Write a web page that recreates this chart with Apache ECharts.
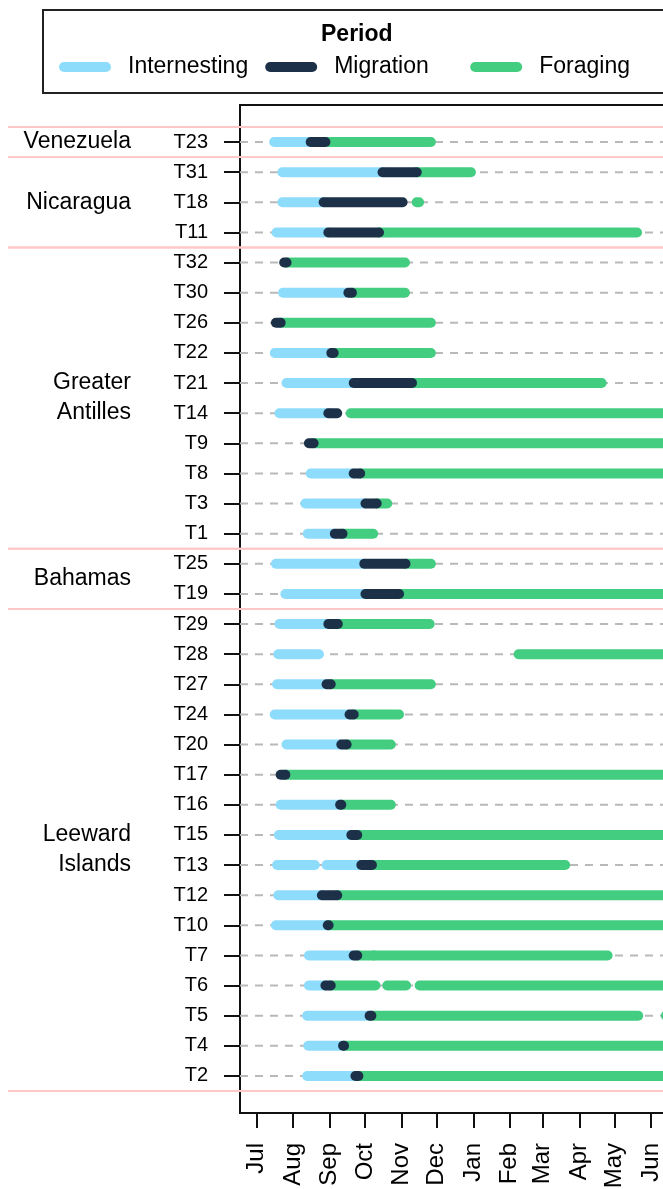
<!DOCTYPE html>
<html>
<head>
<meta charset="utf-8">
<script src="https://cdn.jsdelivr.net/npm/echarts@6/dist/echarts.min.js"></script>
<style>
  html, body { margin: 0; padding: 0; background: #fff; }
  #chart { width: 663px; height: 1189px; }
</style>
</head>
<body>
<div id="chart"></div>
<script>
// Tags, top to bottom
const tags = ['T23', 'T31', 'T18', 'T11', 'T32', 'T30', 'T26', 'T22', 'T21', 'T14', 'T9', 'T8',
  'T3', 'T1', 'T25', 'T19', 'T29', 'T28', 'T27', 'T24', 'T20', 'T17', 'T16', 'T15', 'T13',
  'T12', 'T10', 'T7', 'T6', 'T5', 'T4', 'T2'];

// Foraging regions and how many consecutive tags belong to each
const groupNames = ['Venezuela', 'Nicaragua', 'Greater\nAntilles', 'Bahamas', 'Leeward\nIslands'];
const groupSizes = [1, 3, 10, 2, 16];

// Month ticks (days counted from 1 July)
const monthNames = ['Jul', 'Aug', 'Sep', 'Oct', 'Nov', 'Dec', 'Jan', 'Feb', 'Mar', 'Apr', 'May', 'Jun'];
const monthDays = [31, 31, 30, 31, 30, 31, 31, 28, 31, 30, 31, 30];

// Period segments: [tag, start day, end day], days since 1 July
const internesting = [
  ['T23', 15, 46], ['T31', 22, 107], ['T18', 22, 57], ['T11', 17, 61],
  ['T30', 22.5, 78], ['T22', 15.5, 63.5], ['T21', 25.5, 82.5], ['T14', 19.5, 61],
  ['T8', 46, 82.5], ['T3', 41.5, 92.5], ['T1', 43.5, 66.5], ['T25', 16.5, 91.5],
  ['T19', 24.5, 92.5], ['T29', 19.5, 61], ['T28', 18.5, 53], ['T27', 17.5, 59.5],
  ['T24', 15.5, 79], ['T20', 25.5, 72], ['T16', 20.5, 71], ['T15', 19, 80.5],
  ['T13', 17.5, 49.5], ['T13', 59.5, 89], ['T12', 18.5, 55.5], ['T10', 16.5, 60.5],
  ['T7', 44.5, 82.5], ['T6', 44.5, 58.5], ['T5', 43, 96], ['T4', 44, 73.5], ['T2', 43, 84]
];
const migration = [
  ['T23', 46, 58.5], ['T31', 107, 136], ['T18', 57, 124], ['T11', 61, 104],
  ['T32', 23.5, 25.5], ['T30', 78, 81], ['T26', 16.5, 20.5], ['T22', 63.5, 65.5],
  ['T21', 82.5, 132], ['T14', 61, 68.5], ['T9', 44.5, 48.5], ['T8', 82.5, 88],
  ['T3', 92.5, 102], ['T1', 66.5, 73], ['T25', 91.5, 126.5], ['T19', 92.5, 121],
  ['T29', 61, 69], ['T27', 59.5, 63], ['T24', 79, 82.5], ['T20', 72, 76.5],
  ['T17', 20.5, 24.5], ['T16', 71, 72], ['T15', 80.5, 85.5], ['T13', 89, 98],
  ['T12', 55.5, 68.5], ['T10', 60.5, 61.2], ['T7', 82.5, 85.5], ['T6', 58.5, 63],
  ['T5', 96, 97.5], ['T4', 73.5, 74.3], ['T2', 84, 86.5]
];
const foraging = [
  ['T23', 58.5, 148], ['T31', 136, 182], ['T18', 136, 138], ['T11', 104, 323],
  ['T32', 25.5, 126], ['T30', 81, 126], ['T26', 20.5, 148], ['T22', 65.5, 90],
  ['T22', 90, 148], ['T21', 132, 293], ['T14', 80, 362], ['T9', 48.5, 362],
  ['T8', 88, 362], ['T3', 102, 111], ['T1', 73, 99], ['T25', 126.5, 148],
  ['T19', 121, 141], ['T19', 141, 362], ['T29', 69, 147], ['T28', 222.5, 362],
  ['T27', 63, 148], ['T24', 82.5, 121], ['T20', 76.5, 114], ['T17', 24.5, 362],
  ['T16', 72, 114], ['T15', 85.5, 362], ['T13', 98, 262], ['T12', 68.5, 362],
  ['T10', 61.2, 362], ['T7', 85.5, 99.5], ['T7', 99.5, 298], ['T6', 63, 101],
  ['T6', 111, 127], ['T6', 138.5, 362], ['T5', 97.5, 324], ['T5', 347.5, 362],
  ['T4', 74.3, 362], ['T2', 86.5, 362]
];

const COLORS = { Internesting: '#8edcfc', Migration: '#1c3148', Foraging: '#43cd80' };
const FONT = '"Liberation Sans", Arial, Helvetica, sans-serif';
const X_MIN = -14, X_MAX = 379;
const Y_MIN = -1.23, Y_MAX = tags.length - 1 + 1.23;

const monthStarts = monthDays.reduce((acc, d, i) => {
  acc.push(i === 0 ? 0 : acc[i - 1] + monthDays[i - 1]);
  return acc;
}, []);
const rowIndex = tags.map((t, i) => i);

function segmentSeries(name, rows, z) {
  return {
    type: 'custom',
    name: name,
    z: z,
    silent: true,
    itemStyle: { color: COLORS[name] },
    encode: { x: [0, 1], y: 2 },
    data: rows.map(r => [r[1], r[2], tags.indexOf(r[0])]),
    renderItem: function (params, api) {
      const row = api.value(2);
      const a = api.coord([api.value(0), row]);
      const b = api.coord([api.value(1), row]);
      return {
        type: 'line',
        shape: { x1: a[0], y1: a[1], x2: b[0], y2: b[1] },
        style: { stroke: COLORS[name], lineWidth: 10, lineCap: 'round' }
      };
    }
  };
}

// Row ranges of each region
const groupRows = [];
groupSizes.reduce((start, n, i) => {
  groupRows.push([X_MIN, start, start + n - 1, i]);
  return start + n;
}, 0);

const legendIcon = 'path://M5 0H47A5 5 0 0 1 47 10H5A5 5 0 0 1 5 0Z';

const option = {
  animation: false,
  backgroundColor: '#fff',
  textStyle: { fontFamily: FONT },
  title: {
    text: 'Period',
    left: 316,
    top: 17,
    textStyle: { fontFamily: FONT, fontSize: 23, fontWeight: 'bold', color: '#000', lineHeight: 26 }
  },
  legend: {
    left: 43,
    top: 10,
    width: 620,
    orient: 'horizontal',
    padding: [44, 12, 13, 16],
    borderColor: '#222',
    borderWidth: 2,
    itemWidth: 52,
    itemHeight: 10,
    itemGap: 17,
    selectedMode: false,
    textStyle: {
      fontFamily: FONT, fontSize: 23, color: '#000', lineHeight: 26,
      width: 119, padding: [0, 0, 0, 12]
    },
    data: [
      { name: 'Internesting', icon: legendIcon },
      { name: 'Migration', icon: legendIcon },
      { name: 'Foraging', icon: legendIcon }
    ]
  },
  grid: {
    left: 240,
    top: 105,
    right: -40,
    bottom: 76,
    outerBoundsMode: 'none',
    containLabel: false,
    show: true,
    borderColor: '#111',
    borderWidth: 2,
    backgroundColor: 'transparent'
  },
  xAxis: {
    type: 'value',
    min: X_MIN,
    max: X_MAX,
    position: 'bottom',
    splitLine: { show: false },
    axisLine: { show: true, onZero: false, lineStyle: { color: '#111', width: 2 } },
    axisTick: {
      show: true, length: 15, customValues: monthStarts,
      lineStyle: { color: '#111', width: 2 }
    },
    axisLabel: {
      show: true, rotate: 90, margin: 30, fontSize: 24, color: '#000', fontFamily: FONT,
      customValues: monthStarts,
      formatter: v => monthNames[monthStarts.indexOf(Math.round(v))] || ''
    }
  },
  yAxis: {
    type: 'value',
    inverse: true,
    min: Y_MIN,
    max: Y_MAX,
    splitLine: { show: false },
    axisLine: { show: true, onZero: false, lineStyle: { color: '#111', width: 2 } },
    axisTick: {
      show: true, length: 16, customValues: rowIndex,
      lineStyle: { color: '#111', width: 2 }
    },
    axisLabel: {
      show: true, margin: 32, fontSize: 20, color: '#000', fontFamily: FONT,
      customValues: rowIndex,
      formatter: v => tags[Math.round(v)] || ''
    }
  },
  series: [
    {
      // dashed guide line behind each tag's timeline
      type: 'custom',
      name: 'guides',
      z: 1,
      silent: true,
      encode: { x: 0, y: 1 },
      data: rowIndex.map(i => [X_MIN, i]),
      renderItem: function (params, api) {
        const cs = params.coordSys;
        const y = api.coord([X_MIN, api.value(1)])[1];
        return {
          type: 'line',
          shape: { x1: cs.x, y1: y, x2: cs.x + cs.width, y2: y },
          style: { stroke: '#b9b9b9', lineWidth: 2, lineDash: [8, 7] }
        };
      }
    },
    {
      // region separators and region names
      type: 'custom',
      name: 'regions',
      z: 2,
      silent: true,
      clip: false,
      encode: { x: 0, y: [1, 2] },
      data: groupRows,
      renderItem: function (params, api) {
        const cs = params.coordSys;
        const r0 = api.value(1), r1 = api.value(2);
        const yTop = api.coord([X_MIN, r0 - 0.5])[1];
        const yBot = api.coord([X_MIN, r1 + 0.5])[1];
        const yMid = api.coord([X_MIN, (r0 + r1) / 2])[1];
        const xL = cs.x - 232, xR = cs.x + cs.width;
        const pink = { stroke: '#ffc8c8', lineWidth: 1.8 };
        return {
          type: 'group',
          children: [
            { type: 'line', shape: { x1: xL, y1: yTop, x2: xR, y2: yTop }, style: pink },
            { type: 'line', shape: { x1: xL, y1: yBot, x2: xR, y2: yBot }, style: pink },
            {
              type: 'text',
              x: cs.x - 109,
              y: yMid,
              style: {
                text: groupNames[api.value(3)],
                fill: '#000',
                font: '23px ' + FONT,
                lineHeight: 30,
                align: 'right',
                verticalAlign: 'middle'
              }
            }
          ]
        };
      }
    },
    segmentSeries('Internesting', internesting, 3),
    segmentSeries('Foraging', foraging, 4),
    segmentSeries('Migration', migration, 5)
  ]
};

const chart = echarts.init(document.getElementById('chart'), null, { renderer: 'canvas' });
chart.setOption(option);
</script>
</body>
</html>
